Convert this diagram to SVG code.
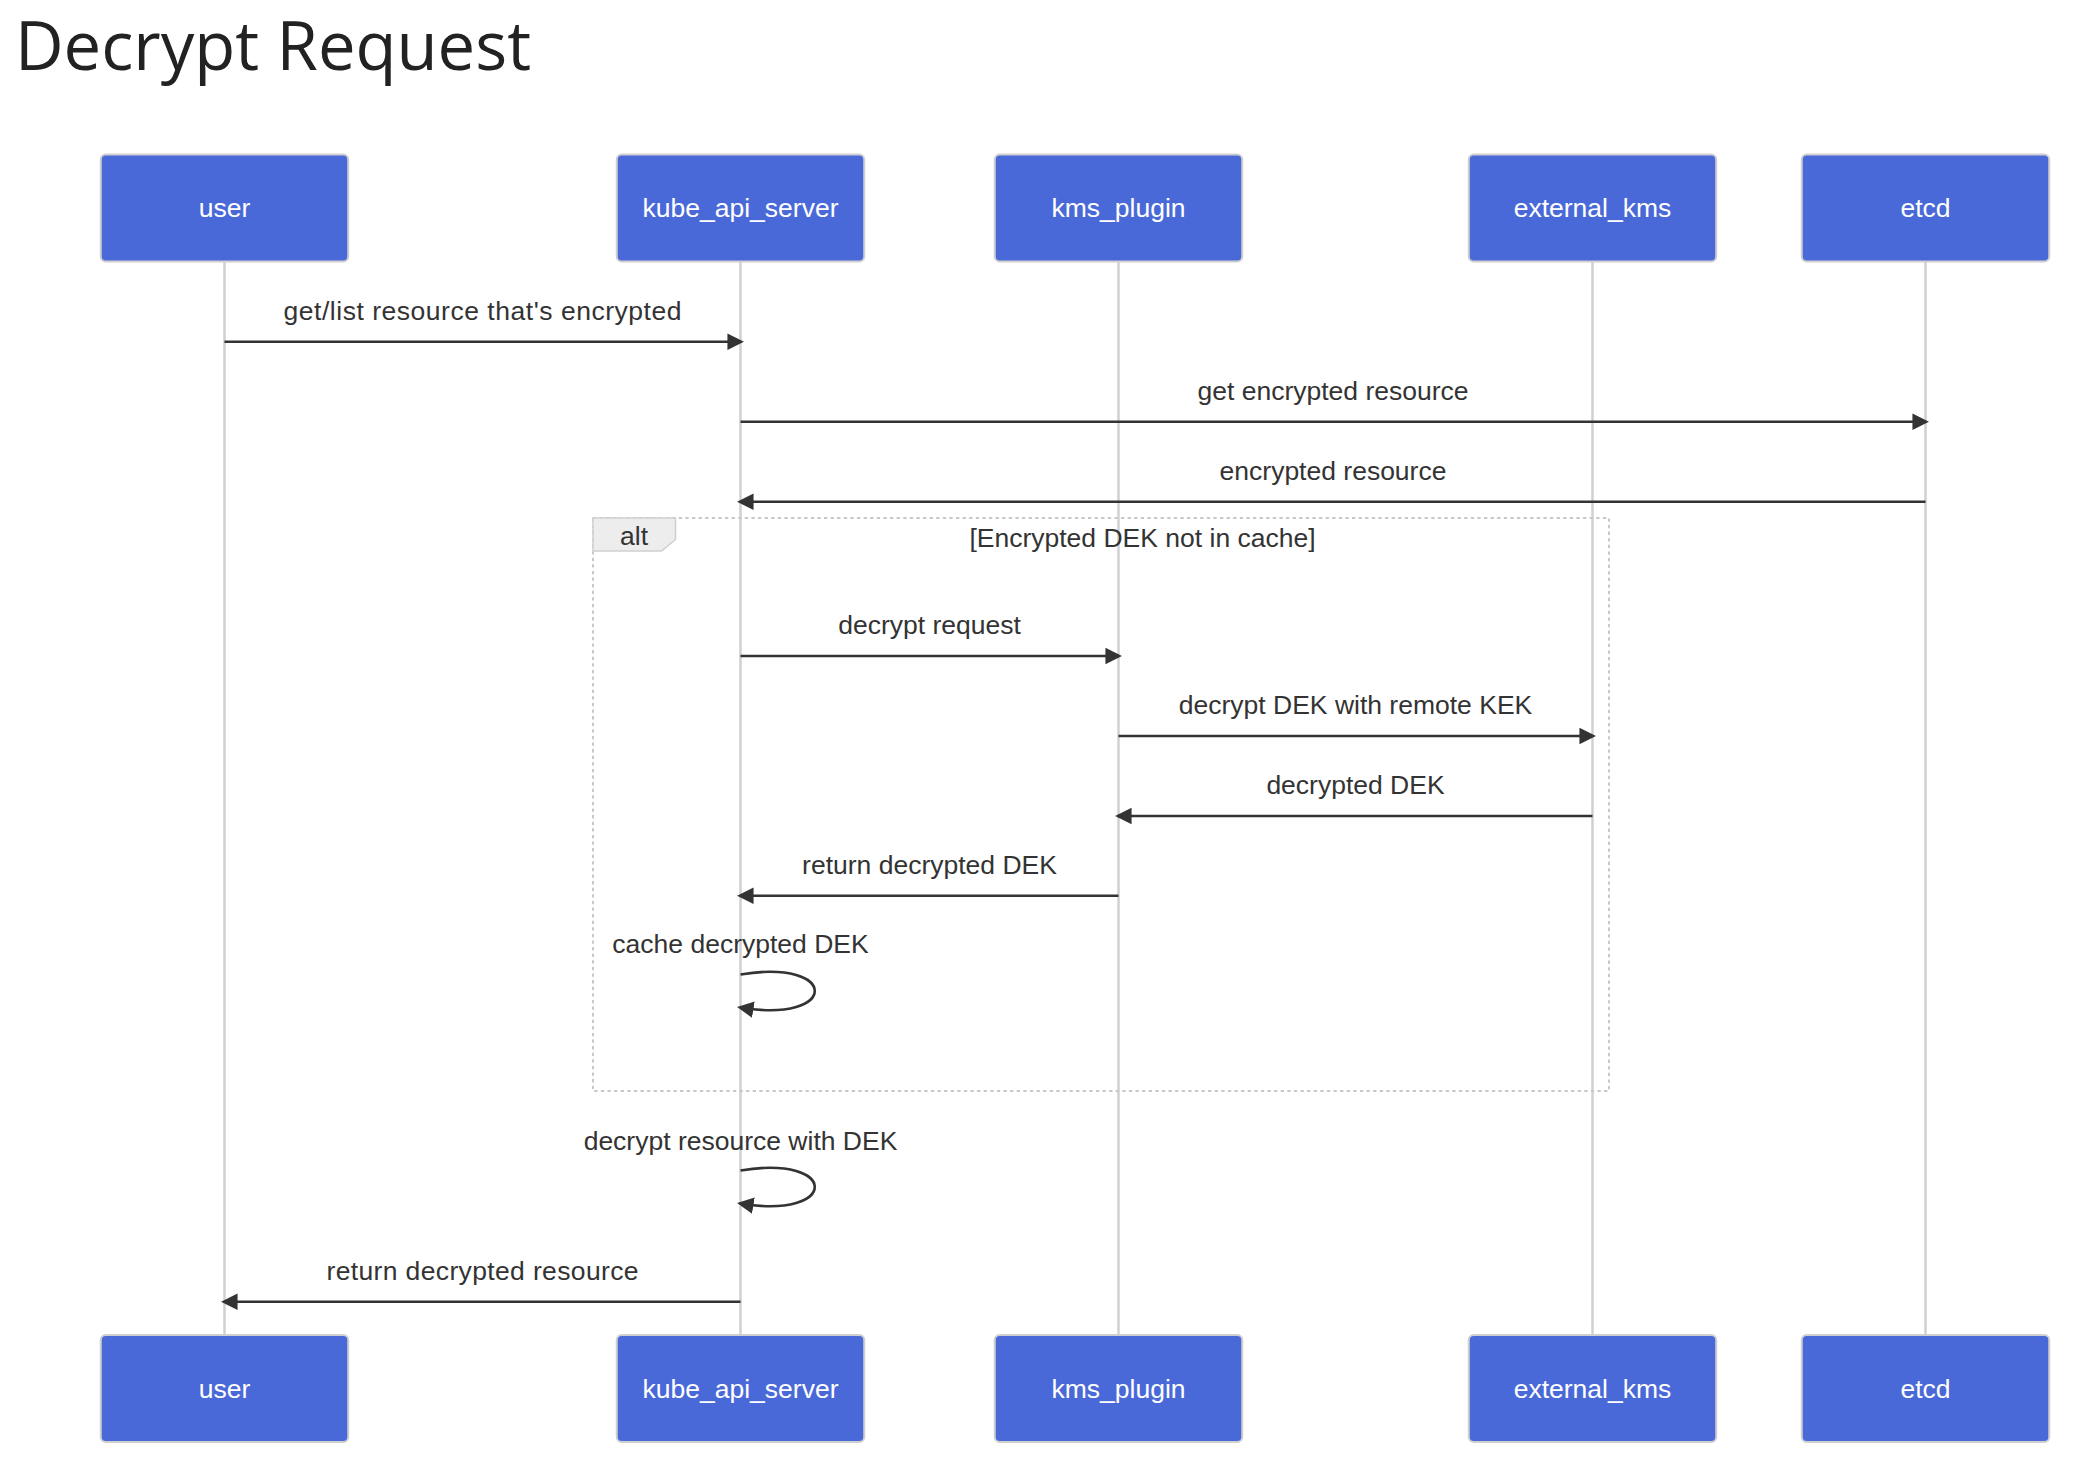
<svg xmlns="http://www.w3.org/2000/svg" width="2098" height="1468" viewBox="0 0 2098 1468">
<defs>
<style>
.title{font-family:"Open Sans","Noto Sans",sans-serif;font-size:67px;fill:#222}
.actor rect{fill:#4a69d9;stroke:#cfcfcf;stroke-width:2}
.actor text{font-family:"Liberation Sans",Arial,sans-serif;font-size:26.5px;fill:#fff;text-anchor:middle;dominant-baseline:central}
.life{stroke:#d0d0d0;stroke-width:2.5}
.msg{stroke:#333;stroke-width:2.6;fill:none}
.lbl{font-family:"Liberation Sans",Arial,sans-serif;font-size:26.5px;fill:#333;text-anchor:middle}
.loopline{stroke:#c8c8c8;stroke-width:2;stroke-dasharray:3.3,3.3;fill:none}
.labelbox{fill:#ededed;stroke:#cfcfcf;stroke-width:1.5}
</style>
<marker id="arrow" viewBox="0 0 10 10" markerWidth="16.5" markerHeight="16.5" refX="7.9" refY="5" markerUnits="userSpaceOnUse" orient="auto">
<path d="M0,0 L10,5 L0,10 z" fill="#333"/>
</marker>
</defs>
<rect width="2098" height="1468" fill="#fff"/>
<text class="title" x="15" y="70">Decrypt Request</text>

<g id="lifelines">
<line class="life" x1="224.5" y1="261" x2="224.5" y2="1335"/>
<line class="life" x1="740.5" y1="261" x2="740.5" y2="1335"/>
<line class="life" x1="1118.5" y1="261" x2="1118.5" y2="1335"/>
<line class="life" x1="1592.5" y1="261" x2="1592.5" y2="1335"/>
<line class="life" x1="1925.5" y1="261" x2="1925.5" y2="1335"/>
</g>

<g id="alt-frame">
<rect class="loopline" x="593" y="518" width="1016" height="573"/>
<polygon class="labelbox" points="593,518 675.5,518 675.5,539.5 661.6,551 593,551"/>
<text class="lbl" x="634" y="545">alt</text>
<text class="lbl" x="1142.5" y="547">[Encrypted DEK not in cache]</text>
</g>

<g id="user-top" class="actor"><rect x="100.75" y="154.5" width="247.5" height="107" rx="5"/><text x="224.5" y="208">user</text></g>
<g id="kube_api_server-top" class="actor"><rect x="616.75" y="154.5" width="247.5" height="107" rx="5"/><text x="740.5" y="208">kube_api_server</text></g>
<g id="kms_plugin-top" class="actor"><rect x="994.75" y="154.5" width="247.5" height="107" rx="5"/><text x="1118.5" y="208">kms_plugin</text></g>
<g id="external_kms-top" class="actor"><rect x="1468.75" y="154.5" width="247.5" height="107" rx="5"/><text x="1592.5" y="208">external_kms</text></g>
<g id="etcd-top" class="actor"><rect x="1801.75" y="154.5" width="247.5" height="107" rx="5"/><text x="1925.5" y="208">etcd</text></g>

<g id="user-bottom" class="actor"><rect x="100.75" y="1335" width="247.5" height="107" rx="5"/><text x="224.5" y="1389">user</text></g>
<g id="kube_api_server-bottom" class="actor"><rect x="616.75" y="1335" width="247.5" height="107" rx="5"/><text x="740.5" y="1389">kube_api_server</text></g>
<g id="kms_plugin-bottom" class="actor"><rect x="994.75" y="1335" width="247.5" height="107" rx="5"/><text x="1118.5" y="1389">kms_plugin</text></g>
<g id="external_kms-bottom" class="actor"><rect x="1468.75" y="1335" width="247.5" height="107" rx="5"/><text x="1592.5" y="1389">external_kms</text></g>
<g id="etcd-bottom" class="actor"><rect x="1801.75" y="1335" width="247.5" height="107" rx="5"/><text x="1925.5" y="1389">etcd</text></g>

<g id="messages">
<text class="lbl" x="482.5" y="320" textLength="398" lengthAdjust="spacing">get/list resource that's encrypted</text>
<line class="msg" x1="224.5" y1="341.7" x2="740.5" y2="341.7" marker-end="url(#arrow)"/>

<text class="lbl" x="1333" y="400">get encrypted resource</text>
<line class="msg" x1="740.5" y1="421.7" x2="1925.5" y2="421.7" marker-end="url(#arrow)"/>

<text class="lbl" x="1333" y="480">encrypted resource</text>
<line class="msg" x1="1925.5" y1="501.7" x2="740.5" y2="501.7" marker-end="url(#arrow)"/>

<text class="lbl" x="929.5" y="634">decrypt request</text>
<line class="msg" x1="740.5" y1="656" x2="1118.5" y2="656" marker-end="url(#arrow)"/>

<text class="lbl" x="1355.5" y="714">decrypt DEK with remote KEK</text>
<line class="msg" x1="1118.5" y1="736" x2="1592.5" y2="736" marker-end="url(#arrow)"/>

<text class="lbl" x="1355.5" y="794">decrypted DEK</text>
<line class="msg" x1="1592.5" y1="816" x2="1118.5" y2="816" marker-end="url(#arrow)"/>

<text class="lbl" x="929.5" y="874">return decrypted DEK</text>
<line class="msg" x1="1118.5" y1="895.7" x2="740.5" y2="895.7" marker-end="url(#arrow)"/>

<text class="lbl" x="740.5" y="953">cache decrypted DEK</text>
<path class="msg" d="M740.5,974.5 C839.5,958 839.5,1024 740.5,1007.5" marker-end="url(#arrow)"/>

<text class="lbl" x="740.5" y="1150">decrypt resource with DEK</text>
<path class="msg" d="M740.5,1170.5 C839.5,1154 839.5,1220 740.5,1203.5" marker-end="url(#arrow)"/>

<text class="lbl" x="482.5" y="1280" textLength="312" lengthAdjust="spacing">return decrypted resource</text>
<line class="msg" x1="740.5" y1="1301.7" x2="224.5" y2="1301.7" marker-end="url(#arrow)"/>
</g>
</svg>
